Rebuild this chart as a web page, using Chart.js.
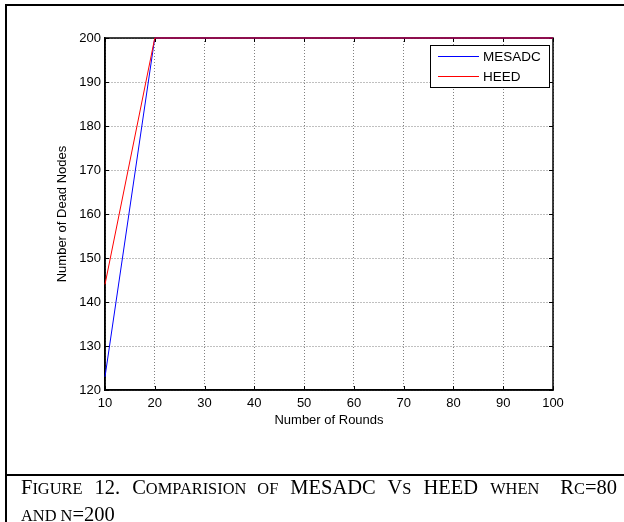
<!DOCTYPE html>
<html>
<head>
<meta charset="utf-8">
<script src="https://cdn.jsdelivr.net/npm/chart.js@4/dist/chart.umd.min.js"></script>
<style>
  html, body { margin: 0; padding: 0; background: #fff; }
  #wrap { position: relative; width: 624px; height: 522px; overflow: hidden; background: #fff; }
  #c { position: absolute; left: 0; top: 0; }
  .ln { position: absolute; background: #000; }
  .cap { position: absolute; left: 21px; width: 596px; font-family: "Liberation Serif", "Times New Roman", serif; font-size: 20.5px; color: #000; white-space: nowrap; line-height: 27px; }
  .cap small { font-size: 16.4px; }
  #cap1 { top: 474px; text-align: justify; text-align-last: justify; white-space: normal; }
  #cap2 { top: 501px; }
</style>
</head>
<body>
<div id="wrap">
  <canvas id="c" width="624" height="522"></canvas>
  <div class="ln" style="left:5px; top:4px; width:619px; height:2px;"></div>
  <div class="ln" style="left:5px; top:4px; width:2px; height:518px;"></div>
  <div class="ln" style="left:5px; top:474px; width:619px; height:2px;"></div>
  <div class="cap" id="cap1">F<small>IGURE</small> 12. C<small>OMPARISION OF</small> MESADC V<small>S</small> HEED <small>WHEN</small> <span style="margin-left:9px">R<small>C</small>=80</span></div>
  <div class="cap" id="cap2"><small>AND N</small>=200</div>
</div>
<script>
const rounds = [10, 20, 30, 40, 50, 60, 70, 80, 90, 100];
const mesadc = [123, 200, 200, 200, 200, 200, 200, 200, 200, 200];
const heed   = [144, 200, 200, 200, 200, 200, 200, 200, 200, 200];
const seriesNames = ["MESADC", "HEED"];
const seriesColors = ["#0000ff", "#ff0000"];
const xTitle = "Number of Rounds";
const yTitle = "Number of Dead Nodes";

const FONT = '"Liberation Sans", Arial, sans-serif';

const frame = {
  id: 'frame',
  beforeDatasetsDraw(chart) {
    const {ctx, chartArea: a, scales} = chart;
    ctx.save();
    ctx.strokeStyle = '#000';
    ctx.lineWidth = 1;
    const tl = 4;
    ctx.beginPath();
    scales.x.ticks.forEach(t => {
      const x = Math.round(scales.x.getPixelForValue(t.value)) + 0.5;
      ctx.moveTo(x, a.bottom); ctx.lineTo(x, a.bottom - tl);
      ctx.moveTo(x, a.top); ctx.lineTo(x, a.top + tl);
    });
    scales.y.ticks.forEach(t => {
      const y = Math.round(scales.y.getPixelForValue(t.value)) + 0.5;
      ctx.moveTo(a.left, y); ctx.lineTo(a.left + tl, y);
      ctx.moveTo(a.right, y); ctx.lineTo(a.right - tl, y);
    });
    ctx.stroke();
    ctx.lineWidth = 1.5;
    ctx.strokeRect(a.left, a.top, a.right - a.left, a.bottom - a.top);
    ctx.restore();
  },
  afterDatasetsDraw(chart) {
    const {ctx, chartArea: a} = chart;
    ctx.save();
    const bx = a.right - 123, by = a.top + 7, bw = 119, bh = 42;
    ctx.fillStyle = '#fff';
    ctx.fillRect(bx, by, bw, bh);
    ctx.lineWidth = 1;
    ctx.strokeStyle = '#000';
    ctx.strokeRect(bx + 0.5, by + 0.5, bw, bh);
    ctx.font = '13.5px ' + FONT;
    ctx.textBaseline = 'middle';
    ctx.fillStyle = '#000';
    chart.data.datasets.forEach((ds, i) => {
      const y = by + 11.5 + i * 20;
      ctx.strokeStyle = ds.borderColor;
      ctx.beginPath();
      ctx.moveTo(bx + 8, y); ctx.lineTo(bx + 49, y);
      ctx.stroke();
      ctx.fillText(ds.label, bx + 53, y + 0.5);
    });
    ctx.restore();
  }
};

new Chart(document.getElementById('c'), {
  type: 'line',
  data: {
    labels: rounds,
    datasets: [
      { label: seriesNames[0], data: rounds.map((r, i) => ({x: r, y: mesadc[i]})), borderColor: seriesColors[0], backgroundColor: seriesColors[0], borderWidth: 1, pointRadius: 0, tension: 0, order: 1, clip: 4 },
      { label: seriesNames[1], data: rounds.map((r, i) => ({x: r, y: heed[i]})), borderColor: seriesColors[1], backgroundColor: seriesColors[1], borderWidth: 1, pointRadius: 0, tension: 0, order: 0, clip: 4 }
    ]
  },
  options: {
    responsive: false,
    animation: false,
    devicePixelRatio: 1,
    layout: { padding: { left: 0, top: 38, right: 71, bottom: 82 } },
    plugins: { legend: { display: false }, tooltip: { enabled: false } },
    scales: {
      x: {
        type: 'linear', min: 10, max: 100,
        ticks: { stepSize: 10, color: '#000', font: { family: FONT, size: 13 }, padding: 6, maxRotation: 0 },
        grid: { color: '#808080', lineWidth: 1, drawTicks: false },
        border: { color: '#000', width: 1.5, dash: [1, 2] },
        title: { display: true, text: xTitle, color: '#000', font: { family: FONT, size: 13 }, padding: { top: 0, bottom: 12 } },
        afterFit(s) { s.height = 50; }
      },
      y: {
        min: 120, max: 200,
        ticks: { stepSize: 10, color: '#000', font: { family: FONT, size: 13 }, padding: 4 },
        grid: { color: '#808080', lineWidth: 1, drawTicks: false },
        border: { color: '#000', width: 1.5, dash: [1, 2] },
        title: { display: true, text: yTitle, color: '#000', font: { family: FONT, size: 13 }, padding: { top: 55, bottom: 0 } },
        afterFit(s) { s.width = 105; }
      }
    }
  },
  plugins: [frame]
});
</script>
</body>
</html>
